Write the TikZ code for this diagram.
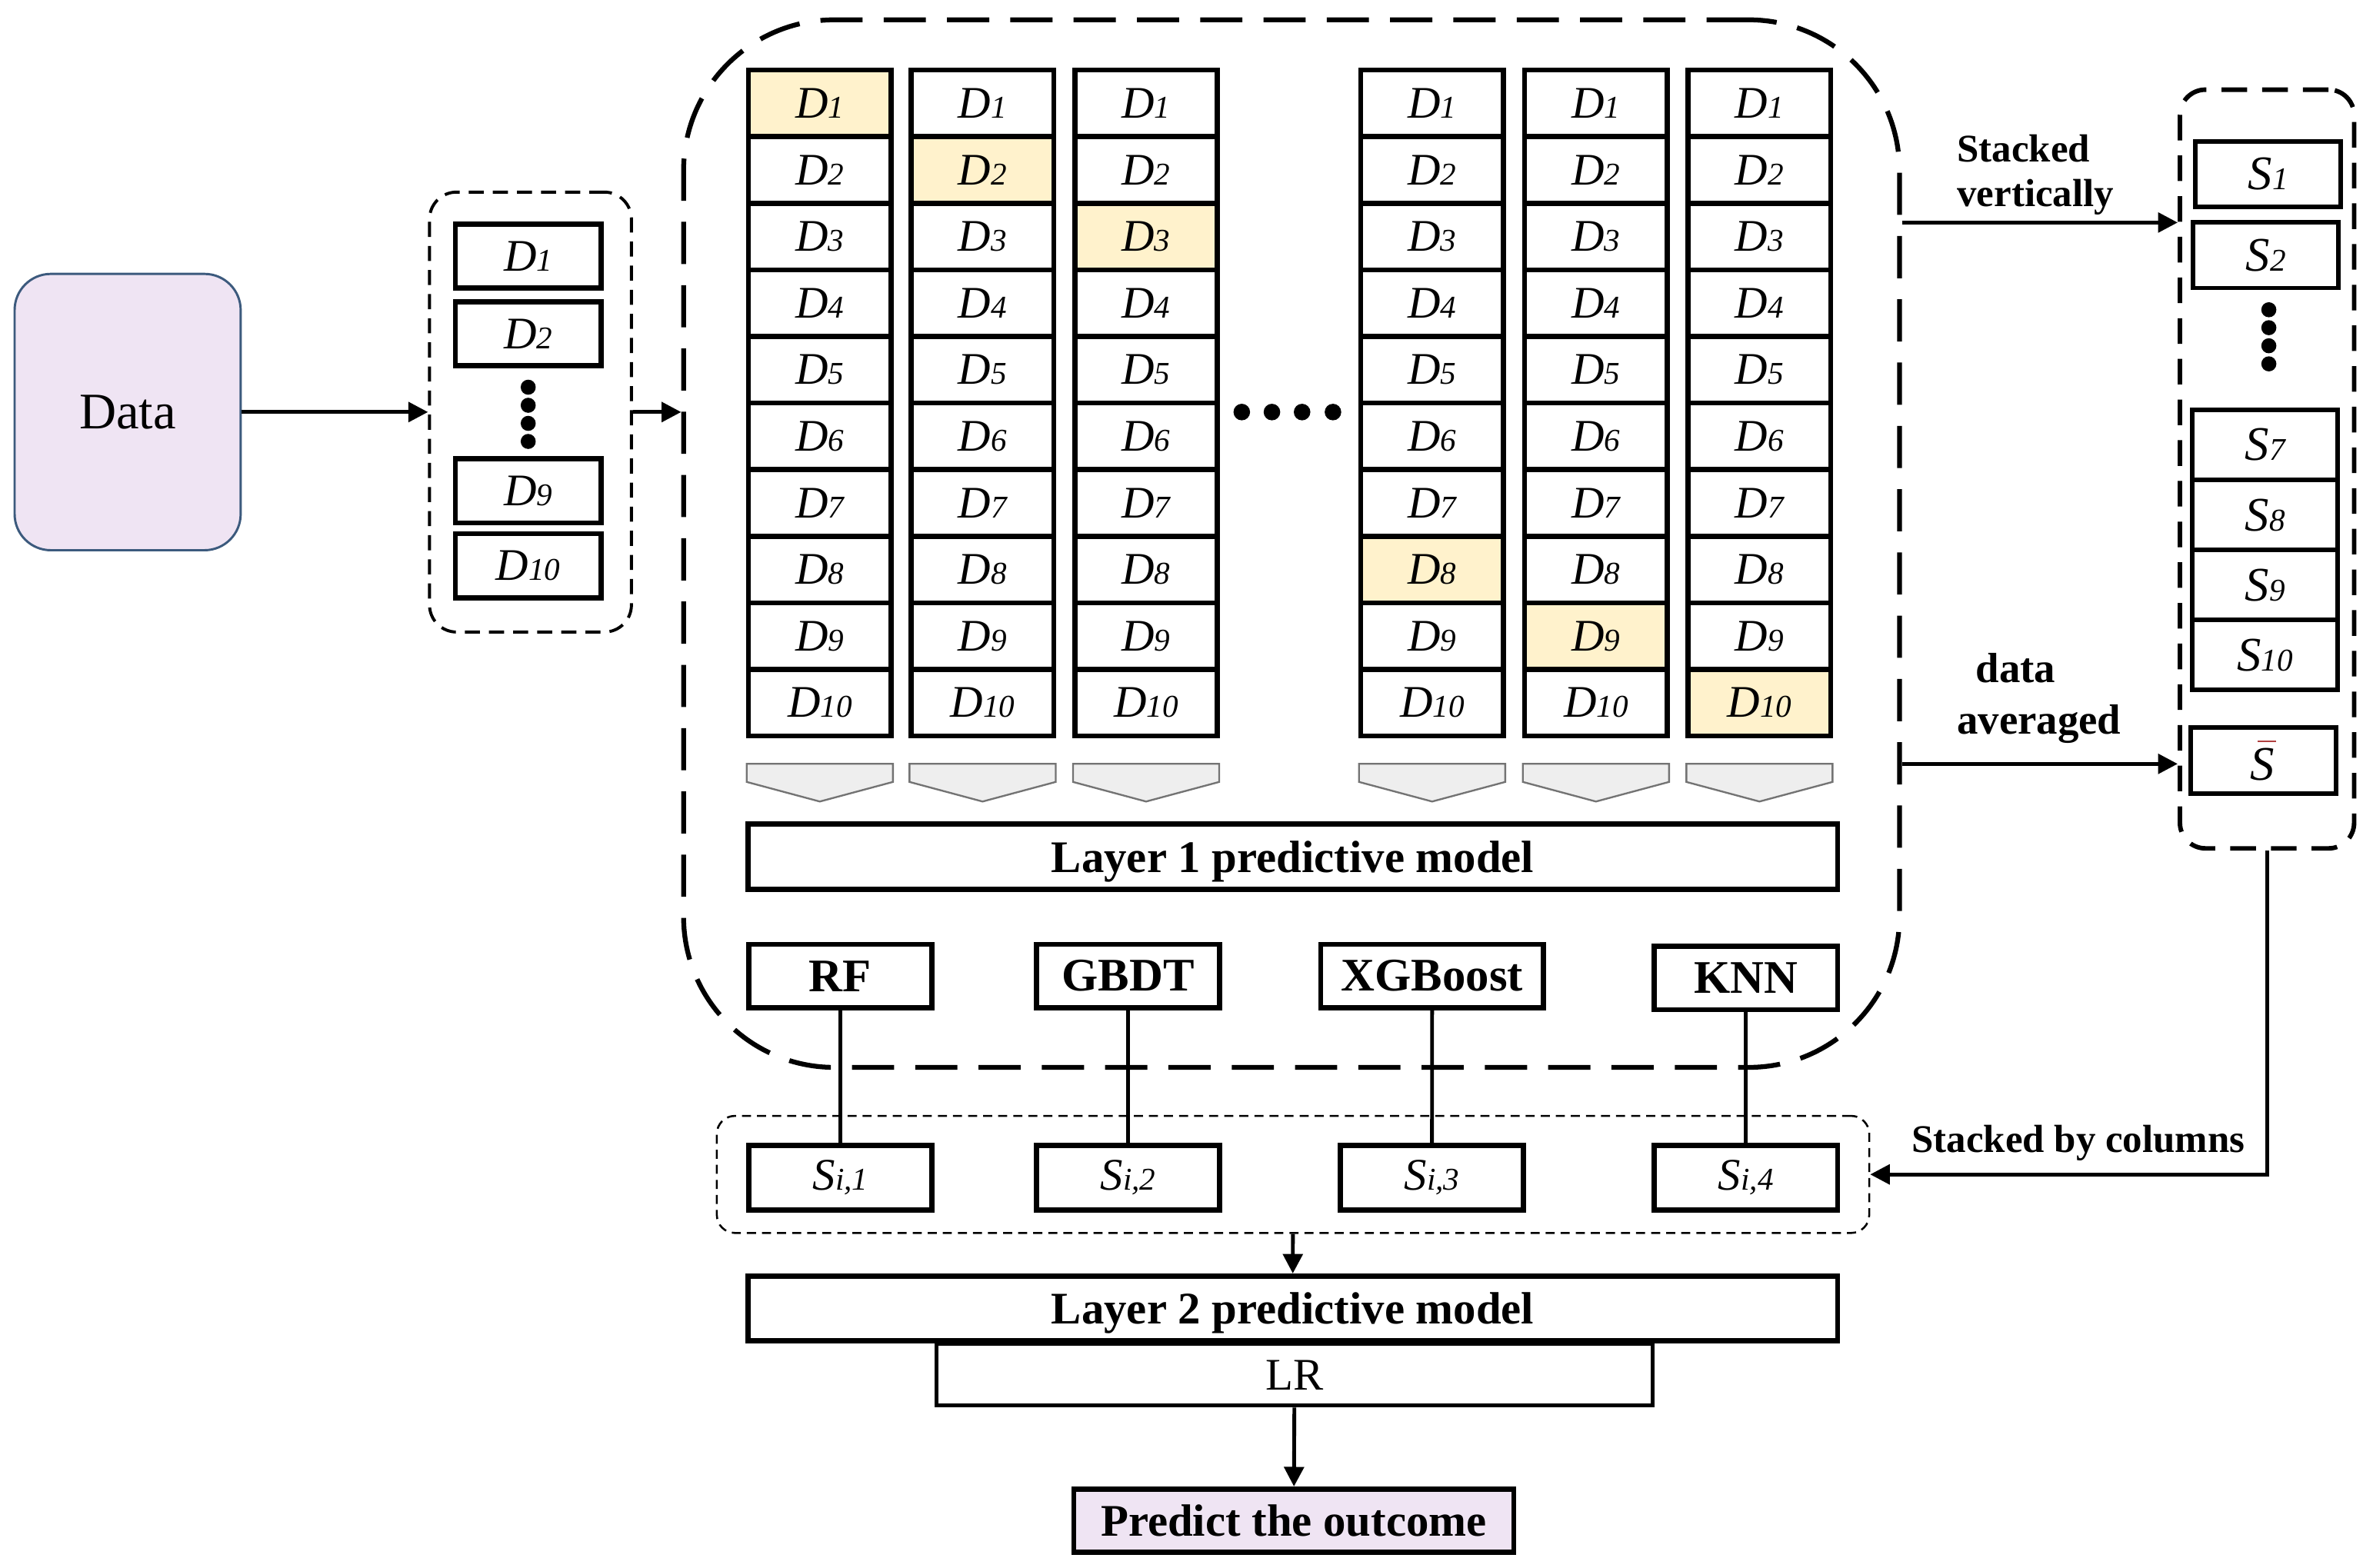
\documentclass[tikz,border=0pt]{standalone}
\usepackage{fontspec}
\setmainfont{Liberation Serif}
\usetikzlibrary{arrows.meta}

\definecolor{lavender}{HTML}{EFE4F3}
\definecolor{hlyellow}{HTML}{FFF2CC}
\definecolor{chevgray}{HTML}{EEEEEE}
\definecolor{databorder}{HTML}{3C5A7D}
\definecolor{barred}{HTML}{B04040}

\newcommand{\lowidx}[1]{{\fontsize{21}{21}\selectfont #1}}
\newcommand{\Sbar}{\rlap{S}\hspace*{5pt}\raisebox{25pt}{\color{barred}\rule{12pt}{1.2pt}}}

\tikzset{
  dcell/.style={draw, fill=white, line width=3.4pt, minimum width=94.6pt, minimum height=44.2pt, inner sep=0pt, font=\fontsize{30}{30}\selectfont\itshape},
  lcell/.style={dcell, minimum width=96.6pt, minimum height=42.6pt},
  scell/.style={draw, line width=3pt, minimum width=96.5pt, minimum height=43.5pt, inner sep=0pt, font=\fontsize{32}{32}\selectfont\itshape},
  plain/.style={draw, line width=3.4pt, inner sep=0pt, minimum height=42.2pt},
  model/.style={plain, minimum width=121.6pt, font=\fontsize{31}{31}\selectfont\bfseries},
  sout/.style={plain, minimum width=121.6pt, minimum height=43.2pt, font=\fontsize{30}{30}\selectfont\itshape},
  layerbox/.style={plain, minimum width=723pt, minimum height=43.1pt, text depth=0pt, font=\fontsize{30}{30}\selectfont\bfseries},
  databox/.style={draw=databorder, fill=lavender, line width=1.5pt, rounded corners=24pt, minimum width=150pt, minimum height=183.4pt, font=\fontsize{34}{34}\selectfont},
  bigdash/.style={draw, line width=3.2pt, dash pattern=on 28pt off 14pt, rounded corners=100pt},
  middash/.style={draw, line width=3pt, dash pattern=on 17pt off 10pt, rounded corners=17pt},
  thindash/.style={draw, line width=2pt, dash pattern=on 10pt off 6pt, rounded corners=18pt},
  finedash/.style={draw, line width=1.3pt, dash pattern=on 6pt off 4pt, rounded corners=12pt},
  chev/.style={fill=chevgray, draw=gray!90!black, line width=1.2pt},
  link/.style={line width=2.5pt},
  flow/.style={line width=2.5pt, -{Triangle[length=13pt,width=13pt]}},
  lab/.style={inner sep=0pt, font=\fontsize{26}{30}\selectfont\bfseries},
}

\begin{document}
\begin{tikzpicture}[x=1pt,y=-1pt]
  \useasboundingbox (0,0) rectangle (1568,1040.7);

  \draw (84.7,273.5) node[databox] (data) {Data};

  \draw (352,273.5) node[thindash, minimum width=134pt, minimum height=292pt] (lbox) {};
  \draw (350.5,170) node[lcell] (ld1) {D\lowidx{1}};
  \draw (350.5,221.5) node[lcell] (ld2) {D\lowidx{2}};
  \draw (350.5,325.7) node[lcell] (ld9) {D\lowidx{9}};
  \draw (350.5,375.5) node[lcell] (ld10) {D\lowidx{10}};
  \foreach \y in {257,269,281,293} \fill (350.5,\y) circle (5pt);

  \draw (857,360.8) node[bigdash, minimum width=806.8pt, minimum height=695.3pt] (bigbox) {};
  \foreach \c/\x/\h in {1/544/1,2/652/2,3/760.5/3,4/950.3/8,5/1059/9,6/1167.5/10}{
    \foreach \r in {1,...,10}{
      \ifnum\r=\h\relax\def\fc{hlyellow}\else\def\fc{white}\fi
      \draw (\x,{46.5+44.2*(\r-0.5)}) node[dcell, fill=\fc] (d\c-\r) {D\lowidx{\r}};
    }
  }
  \foreach \x in {824,844,864,884.5} \fill (\x,273.5) circle (5.5pt);
  \foreach \x in {544,652,760.5,950.3,1059,1167.5}
    \draw[chev] ({\x-48.5},507) -- ({\x+48.5},507) -- ({\x+48.5},519) -- (\x,532) -- ({\x-48.5},519) -- cycle;

  \draw (857.8,568.6) node[layerbox] (layer1) {Layer 1 predictive model};
  \draw (557.6,647.8) node[model] (rf) {RF};
  \draw (748.5,647.8) node[model] (gbdt) {GBDT};
  \draw (950.3,647.8) node[model, minimum width=148pt] (xgb) {XGBoost};
  \draw (1158.5,649) node[model] (knn) {KNN};

  \draw (858,779.5) node[finedash, minimum width=764.7pt, minimum height=77.7pt] (sibox) {};
  \draw (557.6,781.7) node[sout] (si1) {S\lowidx{i,1}};
  \draw (748.5,781.7) node[sout] (si2) {S\lowidx{i,2}};
  \draw (950.2,781.7) node[sout] (si3) {S\lowidx{i,3}};
  \draw (1158.5,781.7) node[sout] (si4) {S\lowidx{i,4}};

  \draw (857.8,868.5) node[layerbox] (layer2) {Layer 2 predictive model};
  \draw (859,912.5) node[plain, line width=2.6pt, minimum width=475.5pt, minimum height=41pt, font=\fontsize{30}{30}\selectfont] (lr) {LR};
  \draw (858.5,1009.3) node[plain, fill=lavender, minimum width=292pt, minimum height=42pt, font=\fontsize{30}{30}\selectfont\bfseries] (predict) {Predict the outcome};

  \draw (1504.3,311.3) node[middash, minimum width=115.6pt, minimum height=503.6pt] (rbox) {};
  \draw (1505,115.5) node[scell] (s1) {S\lowidx{1}};
  \draw (1503.5,169.4) node[scell] (s2) {S\lowidx{2}};
  \foreach \y in {205.6,217.5,229.5,241.5} \fill (1505.5,\y) circle (5pt);
  \draw (1503,295.2) node[scell, minimum height=46.5pt] (s7) {S\lowidx{7}};
  \draw (1503,341.8) node[scell, minimum height=46.5pt] (s8) {S\lowidx{8}};
  \draw (1503,388.3) node[scell, minimum height=46.5pt] (s9) {S\lowidx{9}};
  \draw (1503,434.8) node[scell, minimum height=46.5pt] (s10) {S\lowidx{10}};
  \draw (1501.8,504.8) node[scell] (sbar) {\Sbar};

  \draw (1298.5,89) node[lab, anchor=north west, align=left] (vlab) {Stacked\\vertically};
  \draw (1353,433.5) node[lab, anchor=north, align=center, font=\fontsize{28}{34}\selectfont\bfseries] (alab) {data\hspace*{31pt}\\averaged};
  \draw (1268.4,764.8) node[lab, anchor=base west] (clab) {Stacked by columns};

  \coordinate (vrow) at (0,147.7);
  \coordinate (arow) at (0,507);

  \path[flow] (data) edge (lbox);
  \draw[flow] (lbox.east) -- (lbox.east -| bigbox.west);
  \draw[flow] (bigbox.east |- vrow) -- (rbox.west |- vrow);
  \draw[flow] (bigbox.east |- arow) -- (rbox.west |- arow);
  \draw[flow] (rbox.south) |- (sibox.east);
  \path[link] (rf) edge (si1);
  \path[link] (gbdt) edge (si2);
  \path[link] (xgb) edge (si3);
  \path[link] (knn) edge (si4);
  \path[flow] (sibox) edge (layer2);
  \path[flow] (lr) edge (predict);
\end{tikzpicture}
\end{document}
